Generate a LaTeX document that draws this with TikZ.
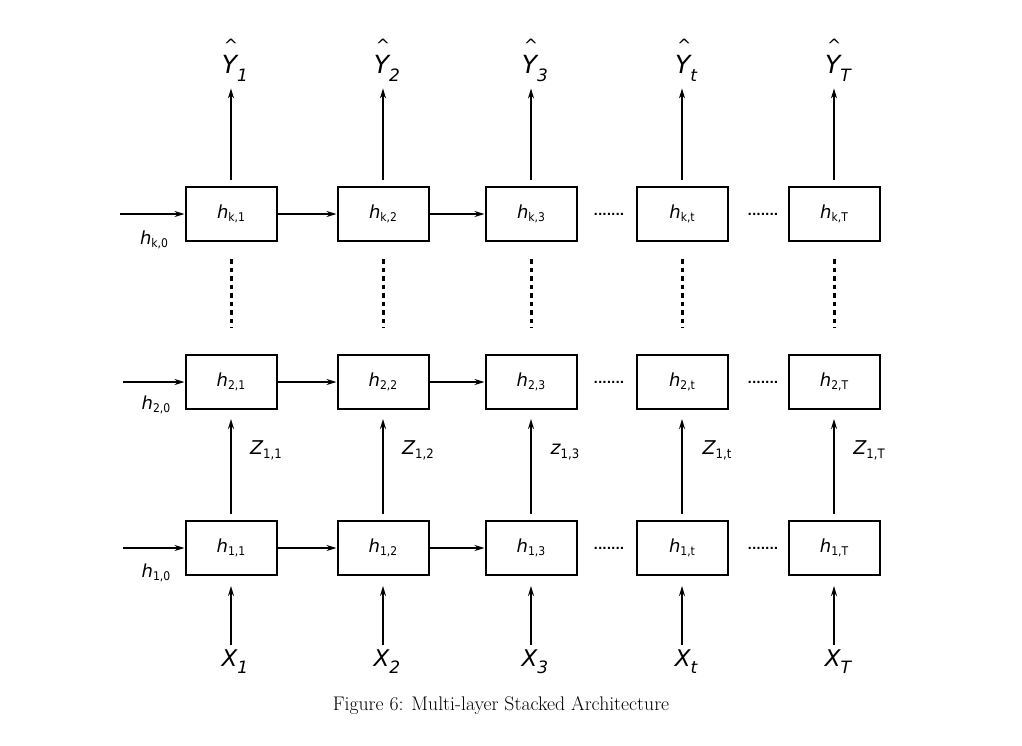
\documentclass[tikz,border=0pt]{standalone}
\usepackage{fontspec}
\newfontfamily\dv{DejaVu Sans}
\newfontfamily\dvc{DejaVu Sans Condensed}
\usetikzlibrary{arrows.meta}
\newcommand{\hsub}[2]{{\dv\itshape\fontsize{18}{18}\selectfont #1}\raisebox{-0.8ex}{\dvc\fontsize{12}{12}\selectfont #2}}
\newcommand{\zsub}[2]{{\dv\itshape\fontsize{19}{19}\selectfont #1}\raisebox{-0.9ex}{\dvc\fontsize{13}{13}\selectfont #2}}
\newcommand{\yhat}[1]{{\dv\itshape\fontsize{25}{25}\selectfont\makebox[0pt][l]{\hspace{0.08em}\raisebox{0.9em}{\upshape\fontsize{17}{17}\selectfont\textasciicircum}}Y\raisebox{-0.3em}{\fontsize{17}{17}\selectfont #1}}}
\newcommand{\xlab}[1]{{\dv\itshape\fontsize{23}{23}\selectfont X\raisebox{-0.3em}{\fontsize{17}{17}\selectfont #1}}}
\newcommand{\hdots}{{\dv\bfseries\fontsize{11.5}{11.5}\selectfont .......}}
\begin{document}
\begin{tikzpicture}[x=1pt,y=-1pt,
  cell/.style={draw,line width=2pt,minimum width=91pt,minimum height=54pt,inner sep=0pt},
  arr/.style={line width=1.6pt,-{Stealth[length=10pt,width=6pt]}},
  vdots/.style={line width=3pt,dash pattern=on 4.5pt off 4pt},
  lab/.style={inner sep=0pt}]
\useasboundingbox (0,0) rectangle (1022,745);
\def\xa{231}\def\xb{383}\def\xc{531}\def\xd{682}\def\xe{834}
\def\ya{548}\def\yb{382}\def\yk{214}
% rows of cells
\foreach \r/\yy/\s in {1/\ya/1,2/\yb/2,k/\yk/k}{
  \node[cell] (c\r1) at (\xa,\yy) {\hsub{h}{\s,1}};
  \node[cell] (c\r2) at (\xb,\yy) {\hsub{h}{\s,2}};
  \node[cell] (c\r3) at (\xc,\yy) {\hsub{h}{\s,3}};
  \node[cell] (c\r4) at (\xd,\yy) {\hsub{h}{\s,t}};
  \node[cell] (c\r5) at (\xe,\yy) {\hsub{h}{\s,T}};
  \node[lab] (d\r a) at (609,\yy) {\hdots};
  \node[lab] (d\r b) at (763,\yy) {\hdots};
  \draw[arr] (c\r1) -- (c\r2);
  \draw[arr] (c\r2) -- (c\r3);
}
% initial states
\coordinate (ik) at (120,\yk); \coordinate (i2) at (123,\yb); \coordinate (i1) at (123,\ya);
\draw[arr] (ik) -- (ck1.west);
\draw[arr] (i2) -- (c21.west);
\draw[arr] (i1) -- (c11.west);
\node[lab] (hk0) at (154,240) {\hsub{h}{k,0}};
\node[lab] (h20) at (156,405) {\hsub{h}{2,0}};
\node[lab] (h10) at (156,573) {\hsub{h}{1,0}};
% outputs, inputs, vertical links
\foreach \i/\xx/\s in {1/\xa/1,2/\xb/2,3/\xc/3,4/\xd/t,5/\xe/T}{
  \node[lab] (y\i) at (\xx+4,60) {\yhat{\s}};
  \draw[arr] ([yshift=6pt]ck\i.north) -- ([yshift=-7pt]ck\i.north |- y\i.south);
  \draw[vdots] ([yshift=-17pt]ck\i.south) -- ([yshift=26pt]c2\i.north);
  \node[lab] (x\i) at (\xx+4,662) {\xlab{\s}};
  \draw[arr] ([yshift=5pt]c1\i.south |- x\i.north) -- ([yshift=-10pt]c1\i.south);
  \draw[arr] ([yshift=6pt]c1\i.north) -- ([yshift=-9pt]c2\i.south);
}
\node[lab] (z1) at (\xa+35,450) {\zsub{Z}{1,1}};
\node[lab] (z2) at (\xb+35,450) {\zsub{Z}{1,2}};
\node[lab] (z3) at (\xc+34,452) {\zsub{z}{1,3}};
\node[lab] (z4) at (\xd+35,450) {\zsub{Z}{1,t}};
\node[lab] (z5) at (\xe+35,450) {\zsub{Z}{1,T}};
\node[lab] (cap) at (501,706) {\fontsize{19.7}{19.7}\selectfont Figure 6: Multi-layer Stacked Architecture};
\end{tikzpicture}
\end{document}
